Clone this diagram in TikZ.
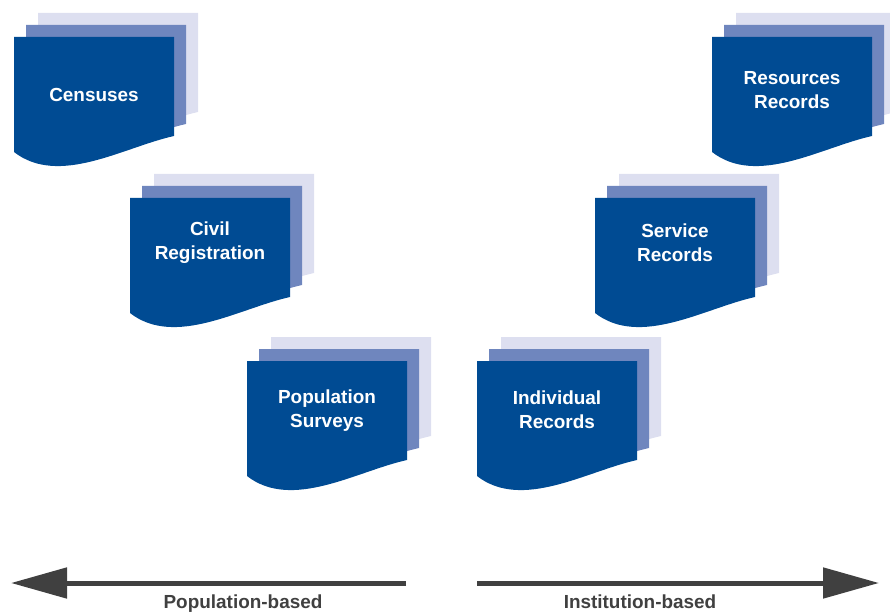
\documentclass[tikz,border=0pt]{standalone}
\usepackage{fontspec}
\setmainfont{Liberation Sans}
\usetikzlibrary{arrows.meta, positioning}

\definecolor{docblue}{RGB}{0,75,147}
\definecolor{midsheet}{RGB}{111,134,190}
\definecolor{backsheet}{RGB}{221,223,240}
\definecolor{axisgray}{RGB}{64,64,64}

\tikzset{
  sheet/.pic={
    \fill[pic actions] (0,0) -- (160,0) -- (160,99)
      .. controls (110,110) and (45,150) .. (0,115) -- cycle;
  },
  doclabel/.style={text=white, font=\bfseries\fontsize{19}{24}\selectfont, align=center},
  axislabel/.style={text=axisgray, font=\bfseries\fontsize{19}{24}\selectfont, anchor=base},
  axisarrow/.style={draw=axisgray, line width=5bp, -{Triangle[length=56bp, width=30bp]}},
}

\begin{document}
\begin{tikzpicture}[x=1bp, y=-1bp]
\clip (0,0) rectangle (890,613);

% document stacks
\foreach \x/\y/\ly/\name/\txt in {
    14/37/95/censuses/Censuses,
    130/198/243/civil/{Civil\\Registration},
    247/361/411/surveys/{Population\\Surveys},
    477/361/410/individual/{Individual\\Records},
    595/198/243/service/{Service\\Records},
    712/37/90/resources/{Resources\\Records}}{
  \pic[fill=backsheet] at (\x+24,\y-24) {sheet};
  \pic[fill=midsheet] at (\x+12,\y-12) {sheet};
  \pic[fill=docblue] at (\x,\y) {sheet};
  \node[doclabel] (\name) at (\x+80,\ly) {\txt};
}

% axis
\coordinate (popstart) at (406,583);
\coordinate (popend) at (11,583);
\coordinate (inststart) at (477,583);
\coordinate (instend) at (879,583);
\draw[axisarrow] (popstart) -- (popend);
\draw[axisarrow] (inststart) -- (instend);
\node[axislabel] (poplabel) at (243,608) {Population-based};
\node[axislabel] (instlabel) at (640,608) {Institution-based};
\end{tikzpicture}
\end{document}
